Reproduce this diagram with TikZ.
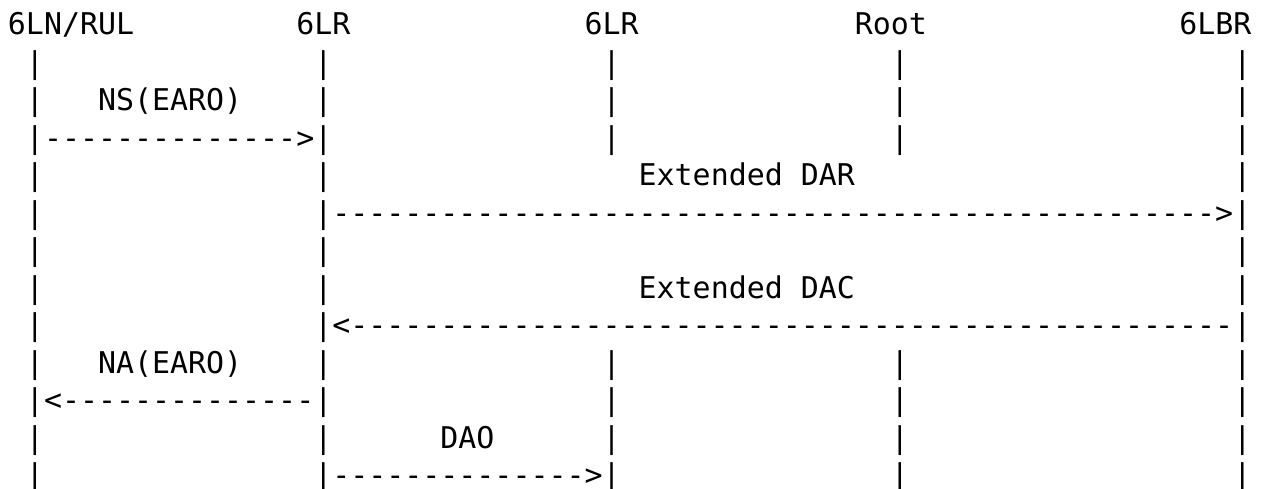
\documentclass[tikz,border=0pt]{standalone}
\usepackage{fontspec}
\setmonofont{DejaVu Sans Mono}
\def\dten{----------}
\tikzset{
  txt/.style={font=\ttfamily\fontsize{29.93pt}{36pt}\selectfont, anchor=base west, inner sep=0pt, outer sep=0pt, text=black},
}
\begin{document}
\begin{tikzpicture}
\fill[white] (0pt,0pt) rectangle (1265pt,-489pt);
\useasboundingbox (0pt,0pt) rectangle (1265pt,-489pt);
\begin{scope}[x=18.02pt, y=-37.5pt, shift={(7.97pt,-35.7pt)}]
  % headers
  \node[txt] (hA) at (0,-0.04) {6LN/RUL};
  \node[txt] (hB) at (16,-0.04) {6LR};
  \node[txt] (hC) at (32,-0.04) {6LR};
  \node[txt] (hD) at (47,-0.04) {Root};
  \node[txt] (hE) at (65,-0.04) {6LBR};
  % lifelines
  \foreach \r in {1,...,12} {
    \node[txt] (la\r) at (1,\r) {|};
    \node[txt] (lb\r) at (17,\r) {|};
    \node[txt] (le\r) at (68,\r) {|};
  }
  \foreach \r in {1,2,3,9,10,11,12} {
    \node[txt] (lc\r) at (33,\r) {|};
    \node[txt] (ld\r) at (49,\r) {|};
  }
  % messages
  \node[txt] (mNS) at (5,2) {NS(EARO)};
  \node[txt] (aNS) at (2,3) {\dten---->};
  \node[txt] (mDAR) at (35,4) {Extended DAR};
  \node[txt] (aDAR) at (18,5) {\dten\dten\dten\dten--------->};
  \node[txt] (mDAC) at (35,7) {Extended DAC};
  \node[txt] (aDAC) at (18,8) {<\dten\dten\dten\dten---------};
  \node[txt] (mNA) at (5,9) {NA(EARO)};
  \node[txt] (aNA) at (2,10) {<\dten----};
  \node[txt] (mDAO) at (24,11) {DAO};
  \node[txt] (aDAO) at (18,12) {\dten---->};
\end{scope}
\end{tikzpicture}
\end{document}
